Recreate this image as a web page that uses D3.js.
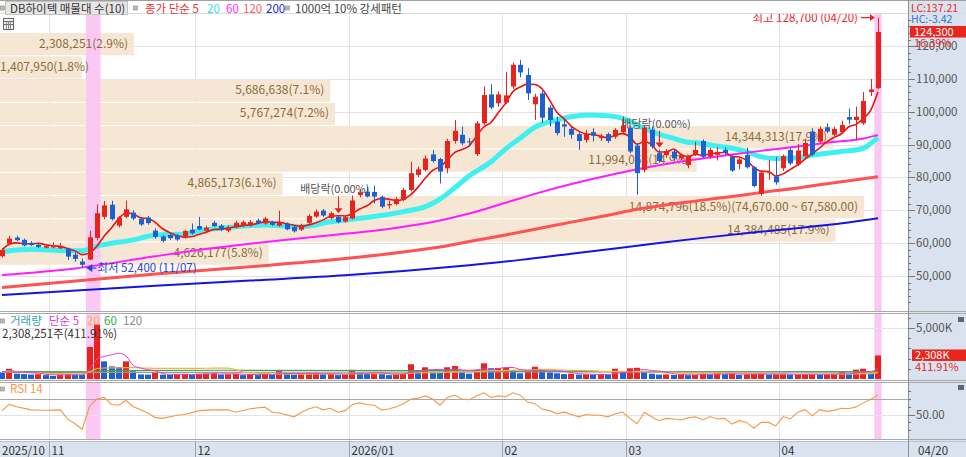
<!DOCTYPE html>
<html><head><meta charset="utf-8">
<script src="https://cdn.jsdelivr.net/npm/d3@7"></script>
<style>
body{margin:0;background:#fff;}
svg{display:block;font-family:"Noto Sans CJK KR","Noto Sans",sans-serif;}
</style></head>
<body><svg id="c" width="966" height="457"></svg>
<script>
// ---------------- DATA ----------------
const dates = [
"2025-10-23","2025-10-24","2025-10-27","2025-10-28","2025-10-29","2025-10-30","2025-10-31",
"2025-11-03","2025-11-04","2025-11-05","2025-11-06","2025-11-07","2025-11-10","2025-11-11","2025-11-12","2025-11-13","2025-11-14","2025-11-17","2025-11-18","2025-11-19","2025-11-20","2025-11-21","2025-11-24","2025-11-25","2025-11-26","2025-11-27","2025-11-28",
"2025-12-01","2025-12-02","2025-12-03","2025-12-04","2025-12-05","2025-12-08","2025-12-09","2025-12-10","2025-12-11","2025-12-12","2025-12-15","2025-12-16","2025-12-17","2025-12-18","2025-12-19","2025-12-22","2025-12-23","2025-12-24","2025-12-26","2025-12-29","2025-12-30",
"2026-01-02","2026-01-05","2026-01-06","2026-01-07","2026-01-08","2026-01-09","2026-01-12","2026-01-13","2026-01-14","2026-01-15","2026-01-16","2026-01-19","2026-01-20","2026-01-21","2026-01-22","2026-01-23","2026-01-26","2026-01-27","2026-01-28","2026-01-29","2026-01-30",
"2026-02-02","2026-02-03","2026-02-04","2026-02-05","2026-02-06","2026-02-09","2026-02-10","2026-02-11","2026-02-12","2026-02-13","2026-02-19","2026-02-20","2026-02-23","2026-02-24","2026-02-25","2026-02-26","2026-02-27",
"2026-03-03","2026-03-04","2026-03-05","2026-03-06","2026-03-09","2026-03-10","2026-03-11","2026-03-12","2026-03-13","2026-03-16","2026-03-17","2026-03-18","2026-03-19","2026-03-20","2026-03-23","2026-03-24","2026-03-25","2026-03-26","2026-03-27","2026-03-30","2026-03-31",
"2026-04-01","2026-04-02","2026-04-03","2026-04-06","2026-04-07","2026-04-08","2026-04-09","2026-04-10","2026-04-13","2026-04-14","2026-04-15","2026-04-16","2026-04-17","2026-04-20"];

const open = [56000,59800,61700,61000,60100,59500,58600,58700,58400,58300,56500,54400,55000,61600,68000,71700,65300,68000,69300,67400,67800,63800,62000,62500,62300,61800,64100,65200,63800,66200,65300,63800,64800,65200,65300,66900,66000,66400,65300,65900,64900,64100,66200,68100,69900,67600,68000,66600,67500,74600,75700,75600,74100,71500,71900,73100,76200,80800,82300,87000,85600,82800,91100,93000,91000,87100,96500,105300,102600,102800,107700,114300,111200,102300,105600,101300,97000,96200,94800,93200,91400,93800,92000,93200,92400,93800,95200,89700,82300,94500,87400,86800,87900,85800,83800,87000,91100,86300,86900,88400,86300,84100,86800,83100,75000,81300,80300,82800,88400,84000,86500,94000,90900,95300,93000,93800,98400,97500,96500,106000,107200];
const high = [58500,62200,62300,61400,60600,59800,59600,60300,60100,58600,57300,55300,63800,71800,72800,72900,68300,73000,70000,67900,68300,64500,62500,62900,62800,64100,66000,68000,65300,66800,65800,65400,66800,66900,67000,67500,68000,66800,69900,66300,65300,65900,68900,70300,70400,69600,68500,68400,74500,76300,77200,77500,74500,73000,74000,76800,84800,83300,86700,88400,86000,91800,97500,95500,92000,97200,107700,108400,106200,112200,115000,115800,113300,105500,106300,102000,98500,97500,95500,93800,94500,95000,93300,93700,95000,98600,95800,90500,96000,95500,88500,88600,88500,87300,86800,90900,91600,89000,89200,89200,86800,86200,89000,83500,82000,85300,86300,87000,88900,90200,91800,95000,95500,96500,95500,97300,101000,101600,106000,110000,128700];
const low = [55600,59500,60600,59000,59100,58500,58400,58400,58200,54900,54300,52400,54800,60800,67300,66900,64800,67500,67000,65200,65600,61300,60200,61000,60700,61400,62600,63900,63400,64900,63600,63300,64500,64900,65000,65800,65600,65200,65000,63900,63200,63700,65900,67700,68000,67200,66000,66200,67200,74000,73900,72100,70600,70500,71500,72800,75800,80100,81800,84500,78200,81300,90300,89800,89400,86500,96000,100800,101500,102300,107000,110500,103600,97500,96600,95500,92800,92400,91800,88400,90600,91000,91200,90500,91800,93300,87300,74700,81500,88800,84500,86000,85200,85300,82800,86500,85800,85800,85200,86900,81700,82500,82700,77000,74400,79300,77800,82000,83800,83500,86000,86500,90400,93500,92500,93300,96200,91400,96000,104800,106800];
const close = [57900,61400,60900,59300,59400,58800,59100,59100,58900,55900,55200,53400,61800,69100,71500,67300,67800,70300,67500,65700,66100,61900,60700,61500,61100,63700,63000,64200,64700,65200,64000,64800,66200,66400,66400,66100,67500,65600,66200,64200,63600,65500,68300,69600,68400,69100,66400,67900,73000,75500,74200,74200,71100,71900,73400,76200,81300,82500,85800,85000,81800,91100,94200,90400,90700,96500,105100,101300,105300,105000,114300,112000,105600,104600,98200,97500,93500,95500,93000,91100,93200,92700,92700,91100,94500,95800,87900,81300,95200,89400,85000,88000,85800,86800,86300,88400,86300,88400,87800,87400,82100,85500,83100,77400,81500,81600,78500,86500,84300,88200,90500,87000,94800,94000,94800,96000,97600,98500,103300,106800,124300];
// volume in thousand shares
const volume = [650,1000,520,480,440,470,380,300,420,470,430,410,3140,5330,1730,1240,1180,1730,760,450,430,600,420,400,430,480,400,520,540,560,430,470,500,380,450,380,520,400,820,560,430,470,560,620,450,500,380,420,900,600,500,620,480,380,430,520,1450,800,1150,700,600,1150,1270,700,520,880,1540,1050,1080,1100,850,558,700,1200,900,650,560,480,500,430,450,420,470,400,1000,700,1050,1100,800,520,430,450,400,420,380,400,550,420,600,470,520,400,450,500,560,420,460,520,430,470,480,500,430,450,500,700,450,920,1010,560.374,2308.251];

// moving-average lines (candle index, value)
const ma20Idx = [0,4,9,11,13,18,21,25,27,32,36,41,45,48,51,55,58,60,62,64,67,69,71,73,76,78,80,83,85,87,89,92,94,96,97,100,102,104,106,109,111,113,115,118,119,120];
const ma20Val = [57400,58100,57700,57700,59100,61000,62500,62800,63800,65000,65500,65000,66500,67300,68100,69600,71100,73400,76800,80500,84800,88700,92000,95300,97500,98500,99000,98800,98000,96000,94000,91900,90700,90400,89900,88900,87900,86300,85800,86000,86800,87400,87900,88900,90400,92100];
const ma60Idx = [0,10,21,29,38,46,51,55,60,64,69,73,78,83,87,92,96,100,104,109,113,118,120];
const ma60Val = [50300,52300,56000,58500,60800,62600,63800,65000,66900,69000,72300,75000,78000,80600,82500,84500,85800,87000,88100,89400,90600,91900,92900];
const ma120Idx = [0,21,34,47,55,60,64,69,73,78,83,87,96,100,104,109,113,120];
const ma120Val = [46500,50600,52800,55300,57300,58800,60500,62500,64200,66400,68500,70300,73100,74200,75400,76800,78100,80200];
const ma200Idx = [0,21,34,47,55,64,71,78,87,96,104,113,120];
const ma200Val = [44200,47000,48600,50200,51500,53300,54900,56800,59200,61600,63500,65500,67600];
const volMa60Idx = [0,12,14,30,60,75,90,120];
const volMa60Val = [720,700,820,860,820,760,700,720];
const volMa120Idx = [0,40,80,120];
const volMa120Val = [640,660,700,680];

// RSI(14)
const rsiIdx = [0,1,2,4,6,8,9,10,11,12,13,14,15,16,17,18,19,20,21,22,24,25,27,29,31,32,34,36,37,38,40,41,42,43,44,45,46,47,48,49,50,51,52,53,54,55,56,57,58,59,60,61,62,63,64,65,66,67,68,69,70,71,72,73,74,75,76,77,78,79,80,81,82,83,84,85,86,87,88,89,90,91,92,93,94,95,96,97,98,99,100,101,102,103,104,105,106,107,108,109,110,111,112,113,114,115,116,117,118,119,120];
const rsiVal = [55,63,60,56,55.5,56,44,38,31,61,70,72,63,62,68,60,56,52,46,45,49,50,55,56,56,53,57.5,59.5,53,52,47,53,57,60,56,58,53,55,63,65,63,62,56,57,60,64,70,71,74,70,62,72,75,70,69,74,78,72,74,73,78,75,66,64,57,55,51,53,50,47,50,49,49,47,51,53,45,38,53,47,42,45,44.2,43,45.6,47,43,47.3,44.2,45,37.6,42,39.8,32.3,39.8,39.8,35.3,47.3,44.2,53,56.2,48.2,56.2,54,55.3,58,57.5,59.8,65,69.6,75.3];

// volume profile (매물대, 10 bands on closes)
const profileFrom = [53400,60490,67580,74670,81760,88850,95940,103030,110120,117210];
const profileTo   = [60490,67580,74670,81760,88850,95940,103030,110120,117210,124300];
const profileVol  = [4626177,14384485,14874796,4865173,11994068,14344313,5767274,5686638,1407950,2308251];
const profilePct  = ["5.8","17.9","18.5","6.1","14.9","17.9","7.2","7.1","1.8","2.9"];

const priceTicks = [50000,60000,70000,80000,90000,100000,110000,120000];
const tickDates  = ["2025-10-23","2025-11-03","2025-12-01","2026-01-02","2026-02-02","2026-03-03","2026-04-01"];
const tickLabels = ["2025/10","11","12","2026/01","02","03","04"];
const exDivDates = ["2025-12-29","2026-03-09"];
const strongIdxRanges = [["2025-11-10","2025-11-11"],["2026-04-20","2026-04-20"]];

// ---------------- DRAW ----------------
const svg = d3.select("#c");
const UP="#e8221c", DN="#1f5fcf", BEIGE="#f6e7d4", PINK="#fbc8f4", AXBG="#d9e2ee", GRID="#e3e3e3";
const n = close.length;
const idx = d3.range(n);
const x = d3.scaleLinear().domain([0, n-1]).range([2, 878]);
const half = (x(1)-x(0))/2;
const PR = 908;  // plot right
const yP = d3.scaleLinear().domain([40000,130000]).range([308.8,13.3]);
const yV = d3.scaleLinear().domain([0,5000]).range([379,328]);
const yR = d3.scaleLinear().domain([50,70]).range([414.5,399]);

svg.append("rect").attr("x",0).attr("y",0).attr("width",966).attr("height",457).attr("fill","#fff");
svg.append("rect").attr("x",PR+1).attr("y",0).attr("width",966-PR-1).attr("height",457).attr("fill",AXBG);
svg.append("rect").attr("x",0).attr("y",441).attr("width",966).attr("height",16).attr("fill",AXBG);

const defs = svg.append("defs");
function clip(id,y0,y1){defs.append("clipPath").attr("id",id).append("rect").attr("x",0).attr("y",y0).attr("width",PR).attr("height",y1-y0);}
clip("cp",13.5,311); clip("cv",314,380); clip("cr",383,439);

const gP = svg.append("g").attr("clip-path","url(#cp)");
const gV = svg.append("g").attr("clip-path","url(#cv)");
const gR = svg.append("g").attr("clip-path","url(#cr)");

const tickI = tickDates.map(d=>dates.indexOf(d));
const bx = tickI.map(i=>Math.round(x(i)-half)+0.5);

gP.selectAll(".hg").data(priceTicks).join("line").attr("x1",0).attr("x2",PR)
  .attr("y1",d=>Math.round(yP(d))+0.5).attr("y2",d=>Math.round(yP(d))+0.5).attr("stroke",GRID);
[gP,gV,gR].forEach(g=>g.selectAll(".vg").data(bx.slice(1)).join("line").attr("x1",d=>d).attr("x2",d=>d)
  .attr("y1",0).attr("y2",457).attr("stroke",GRID));

// volume profile bars
const px = d3.scaleLinear().domain([0,d3.max(profileVol)]).range([0,864]);
const maxP = profileVol.indexOf(d3.max(profileVol));
gP.selectAll(".pb").data(d3.range(10)).join("rect")
  .attr("x",0).attr("y",k=>yP(profileTo[k])+1).attr("width",k=>px(profileVol[k]))
  .attr("height",k=>yP(profileFrom[k])-yP(profileTo[k])-1).attr("fill",BEIGE);

// pink bands
const bands = strongIdxRanges.map(r=>[dates.indexOf(r[0]),dates.indexOf(r[1])]);
[[gP,13,311],[gV,314,380],[gR,383,439]].forEach(([g,a,b])=>{
  g.selectAll(".band").data(bands).join("rect").attr("x",d=>x(d[0])-half).attr("width",d=>x(d[1])-x(d[0])+2*half)
   .attr("y",a).attr("height",b-a).attr("fill",PINK);
});

// profile labels
const fmt = d3.format(",");
gP.selectAll(".pl").data(d3.range(10)).join("text")
  .attr("x",k=>px(profileVol[k])-6).attr("text-anchor","end")
  .attr("y",k=>(yP(profileTo[k])+yP(profileFrom[k]))/2+4)
  .attr("font-size",12).attr("fill","#8c6b3a")
  .text(k=>fmt(profileVol[k])+"("+profilePct[k]+"%)"+(k===maxP?"("+d3.format(",.2f")(profileTo[k])+" ~ "+d3.format(",.2f")(profileFrom[k])+")":""))
  .each(function(){const b=this.getBBox(); if(b.x<0){d3.select(this).attr("x",0).attr("text-anchor","start");}});

// MA lines (20 first so 60/120/200 lie above it)
const lineS = (vals,ys)=>d3.line().x(d=>x(d)).y((d,k)=>ys(vals[k])).curve(d3.curveMonotoneX);
function drawS(g,ix,vals,ys,color,w){g.append("path").datum(ix).attr("d",lineS(vals,ys)).attr("fill","none").attr("stroke",color).attr("stroke-width",w).attr("stroke-linejoin","round");}
drawS(gP,ma20Idx,ma20Val,yP,"#3ef0f0",5);
drawS(gP,ma200Idx,ma200Val,yP,"#1414e6",2);
drawS(gP,ma120Idx,ma120Val,yP,"#ff5252",3);
drawS(gP,ma60Idx,ma60Val,yP,"#ff1cff",2);
const ma5 = idx.map(i=>d3.mean(close.slice(Math.max(0,i-4),i+1)));
gP.append("path").datum(idx).attr("d",d3.line().x(i=>x(i)).y(i=>yP(ma5[i])).curve(d3.curveMonotoneX))
  .attr("fill","none").attr("stroke","#f01010").attr("stroke-width",1.6);

// candles
const col = i=>close[i]>=open[i]?UP:DN;
gP.selectAll(".wk").data(idx).join("line")
  .attr("x1",i=>Math.round(x(i))+0.5).attr("x2",i=>Math.round(x(i))+0.5)
  .attr("y1",i=>yP(high[i])).attr("y2",i=>yP(low[i])).attr("stroke",col);
gP.selectAll(".bd").data(idx).join("rect")
  .attr("x",i=>Math.round(x(i))-2).attr("width",5)
  .attr("y",i=>yP(Math.max(open[i],close[i])))
  .attr("height",i=>Math.max(1,Math.abs(yP(open[i])-yP(close[i])))).attr("fill",col);

// ex-dividend labels (on top of candles)
const exI = exDivDates.map(d=>dates.indexOf(d));
exI.forEach(i=>{
  const xt = Math.round(x(i))+0.5, yb = yP(high[i])-2, yt = yb-18;
  gP.append("text").attr("x",x(i)-3).attr("y",yt-2).attr("text-anchor","middle").attr("font-size",11).attr("fill","#555").text("배당락(0.00%)");
  gP.append("line").attr("x1",xt).attr("x2",xt).attr("y1",yt+1).attr("y2",yb-4).attr("stroke",UP);
  gP.append("path").attr("d",`M${xt-4},${yb-5}L${xt+4},${yb-5}L${xt},${yb}Z`).attr("fill",UP);
});

// high / low annotations
const iH = d3.maxIndex(high), iL = d3.minIndex(low);
const fmtDate = d=>d.slice(5,7)+"/"+d.slice(8,10);
gP.append("text").attr("x",x(iH)-20).attr("y",yP(high[iH])+4).attr("text-anchor","end").attr("font-size",11.5).attr("fill","#e8262a")
  .text("최고 "+fmt(high[iH])+" ("+fmtDate(dates[iH])+")");
gP.append("line").attr("x1",x(iH)-17).attr("x2",x(iH)-7).attr("y1",yP(high[iH])).attr("y2",yP(high[iH])).attr("stroke","#e8262a").attr("stroke-width",1.2);
gP.append("path").attr("d",`M${x(iH)-8},${yP(high[iH])-3.5}L${x(iH)-3},${yP(high[iH])}L${x(iH)-8},${yP(high[iH])+3.5}Z`).attr("fill","#e8262a");
gP.append("text").attr("x",x(iL)+15).attr("y",yP(low[iL])+4).attr("font-size",11.5).attr("fill","#2345d8")
  .text("최저 "+fmt(low[iL])+" ("+fmtDate(dates[iL])+")");
gP.append("path").attr("d",`M${x(iL)+4},${yP(low[iL])}L${x(iL)+10},${yP(low[iL])-4}L${x(iL)+10},${yP(low[iL])+4}Z`).attr("fill","#2345d8");
gP.append("line").attr("x1",x(iL)+9).attr("x2",x(iL)+14).attr("y1",yP(low[iL])).attr("y2",yP(low[iL])).attr("stroke","#2345d8").attr("stroke-width",1.2);

// ---------- volume pane ----------
gV.append("line").attr("x1",0).attr("x2",PR).attr("y1",328.5).attr("y2",328.5).attr("stroke",GRID);
const vcol = i=>(i>0 && volume[i]>=volume[i-1])?UP:DN;
gV.selectAll(".vb").data(idx).join("rect")
  .attr("x",i=>Math.round(x(i))-3).attr("width",6)
  .attr("y",i=>yV(volume[i])).attr("height",i=>yV(0)-yV(volume[i])).attr("fill",vcol);
const vma = p=>idx.map(i=>d3.mean(volume.slice(Math.max(0,i-p+1),i+1)));
const vm5 = vma(5), vm20 = vma(20);
drawS(gV,volMa120Idx,volMa120Val,yV,"#9a9a9a",1.2);
drawS(gV,volMa60Idx,volMa60Val,yV,"#3fa34d",1.2);
gV.append("path").datum(idx).attr("d",d3.line().x(i=>x(i)).y(i=>yV(vm20[i]))).attr("fill","none").attr("stroke","#f5b041").attr("stroke-width",1.2);
gV.append("path").datum(idx).attr("d",d3.line().x(i=>x(i)).y(i=>yV(vm5[i])).curve(d3.curveMonotoneX)).attr("fill","none").attr("stroke","#e040d0").attr("stroke-width",1);

// ---------- RSI pane ----------
gR.append("line").attr("x1",0).attr("x2",PR).attr("y1",Math.round(yR(50))+0.5).attr("y2",Math.round(yR(50))+0.5).attr("stroke",GRID);
gR.append("line").attr("x1",0).attr("x2",PR).attr("y1",Math.round(yR(70))+0.5).attr("y2",Math.round(yR(70))+0.5).attr("stroke","#a8a8a8");
gR.append("path").datum(rsiIdx).attr("d",d3.line().x(d=>x(d)).y((d,k)=>yR(rsiVal[k]))).attr("fill","none").attr("stroke","#f79646").attr("stroke-width",1.1);

// ---------- frame lines ----------
const hl=(y,c)=>svg.append("line").attr("x1",0).attr("x2",966).attr("y1",y).attr("y2",y).attr("stroke",c);
hl(0.5,"#a0a0a0"); hl(13.5,"#dcdcdc");
hl(311.5,"#a8a8a8"); hl(313.5,"#a8a8a8");
hl(380.5,"#a8a8a8"); hl(382.5,"#a8a8a8");
hl(439.5,"#a8a8a8"); hl(441.5,"#b8c2d0");
svg.append("line").attr("x1",PR+0.5).attr("x2",PR+0.5).attr("y1",0).attr("y2",457).attr("stroke","#8f8f8f");

// ---------- right axes ----------
const ax = svg.append("g").attr("font-size",11.5).attr("fill","#555");
d3.range(42000,130000,2000).forEach(v=>{
  const yy=Math.round(yP(v))+0.5, major=v%10000===0;
  ax.append("line").attr("x1",PR).attr("x2",PR+(major?7:3)).attr("y1",yy).attr("y2",yy).attr("stroke","#777");
});
priceTicks.forEach(v=>ax.append("text").attr("x",PR+8).attr("y",yP(v)+4).text(fmt(v)));
d3.range(1000,6001,1000).forEach(v=>{const yy=Math.round(yV(v))+0.5;
  if(yy>315) ax.append("line").attr("x1",PR).attr("x2",PR+(v===5000?7:3)).attr("y1",yy).attr("y2",yy).attr("stroke","#777");});
ax.append("text").attr("x",PR+8).attr("y",yV(5000)+4).text("5,000K");
[30,40,50,60,70,80].forEach(v=>{const yy=Math.round(yR(v))+0.5;
  if(yy>384&&yy<439) ax.append("line").attr("x1",PR).attr("x2",PR+(v===50?7:3)).attr("y1",yy).attr("y2",yy).attr("stroke","#777");});
ax.append("text").attr("x",PR+8).attr("y",yR(50)+4).text("50.00");

// last price tags
const last = close[n-1], prev = close[n-2];
const tg = svg.append("g").attr("font-size",10.5);
tg.append("text").attr("x",911).attr("y",12).attr("fill","#e8262a").text("LC:"+((last-low[iL])/low[iL]*100).toFixed(2));
tg.append("text").attr("x",911).attr("y",22.5).attr("fill","#2f6fd6").text("HC:"+((last-high[iH])/high[iH]*100).toFixed(2));
tg.append("rect").attr("x",910).attr("y",yP(last)-6).attr("width",56).attr("height",11.5).attr("fill","#e8261e");
tg.append("text").attr("x",914).attr("y",yP(last)+4).attr("font-size",11).attr("fill","#fff").text(fmt(last));
tg.append("text").attr("x",914).attr("y",yP(last)+15).attr("font-size",11).attr("fill","#e8262a").text(((last-prev)/prev*100).toFixed(2)+"%");
const lv = volume[n-1], pv = volume[n-2];
tg.append("rect").attr("x",912).attr("y",yV(lv)-6).attr("width",54).attr("height",11.5).attr("fill","#e8261e");
tg.append("text").attr("x",915).attr("y",yV(lv)+4).attr("font-size",11).attr("fill","#fff").text(fmt(Math.round(lv))+"K");
tg.append("text").attr("x",915).attr("y",yV(lv)+15.5).attr("font-size",11).attr("fill","#e8262a").text((lv/pv*100).toFixed(2)+"%");
[316,384].forEach(yy=>svg.append("rect").attr("x",958).attr("y",yy+1).attr("width",6).attr("height",5).attr("fill","#666"));

// ---------- x axis ----------
const xa = svg.append("g").attr("font-size",11.5).attr("fill","#333");
tickI.forEach((i,k)=>{
  const b = bx[k];
  if(k>0) xa.append("line").attr("x1",b).attr("x2",b).attr("y1",441).attr("y2",457).attr("stroke","#9aa4b2");
  xa.append("text").attr("x",Math.max(b,0)+2).attr("y",455).text(tickLabels[k]);
});
xa.append("text").attr("x",918).attr("y",455).text(fmtDate(dates[n-1]));

// ---------- legends ----------
const lg = svg.append("g").attr("font-size",11.5);
function sq(xx,yy){lg.append("rect").attr("x",xx).attr("y",yy).attr("width",4).attr("height",4).attr("fill","#bbb").attr("stroke","#888").attr("stroke-width",0.6);}
lg.append("rect").attr("x",5.5).attr("y",1.5).attr("width",122).attr("height",13).attr("fill","#e6e6e6").attr("stroke","#c4c4c4");
sq(0.5,6); lg.append("text").attr("x",10).attr("y",12.5).attr("fill","#333").text("DB하이텍 매물대 수(10)");
sq(133.5,6);
[["종가 단순 5",145,"#f03030"],["20",207,"#2ee0ea"],["60",226,"#ff2cff"],["120",243,"#ff5a5a"],["200",266,"#2020f0"]]
  .forEach(([t,xx,c])=>lg.append("text").attr("x",xx).attr("y",12.5).attr("fill",c).text(t));
sq(285.5,6); lg.append("text").attr("x",295).attr("y",12.5).attr("fill","#444").text("1000억 10% 강세패턴");
lg.append("rect").attr("x",3.5).attr("y",18.5).attr("width",10).attr("height",11).attr("fill","#f2f2f2").attr("stroke","#666");
[21.5,24.5].forEach(yy=>lg.append("line").attr("x1",4).attr("x2",13).attr("y1",yy).attr("y2",yy).attr("stroke","#666"));
[6.5,8.5,10.5].forEach(xx=>lg.append("line").attr("x1",xx).attr("x2",xx).attr("y1",21.5).attr("y2",29).attr("stroke","#888"));
sq(0.5,319);
[["거래량",10,"#3aa3ab"],["단순 5",49,"#e040d0"],["20",87,"#f5b041"],["60",104,"#3fa34d"],["120",123,"#8a8a8a"]]
  .forEach(([t,xx,c])=>lg.append("text").attr("x",xx).attr("y",325).attr("fill",c).text(t));
lg.append("text").attr("x",2).attr("y",338).attr("fill","#333").text(fmt(Math.round(lv*1000))+"주("+(lv/pv*100).toFixed(2)+"%)");
sq(0.5,387);
lg.append("text").attr("x",10).attr("y",393).attr("fill","#f79646").text("RSI 14");
</script></body></html>
